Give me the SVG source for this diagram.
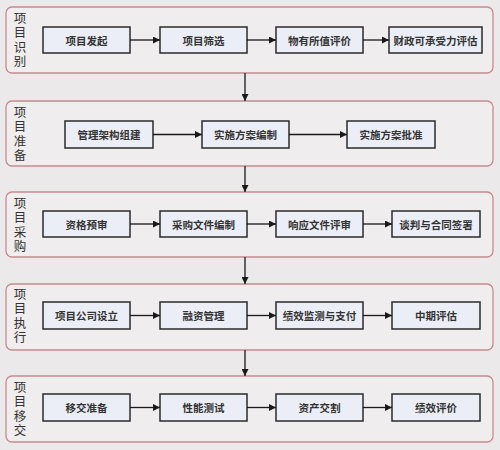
<svg xmlns="http://www.w3.org/2000/svg" width="500" height="450" viewBox="0 0 500 450">
<style>
.panel{fill:#efeded;stroke:#c98a8e;stroke-width:1.3}
.box{fill:#eceef7;stroke:#2b2b2b;stroke-width:1.5}
.bt{font-family:"Noto Sans CJK SC","Noto Sans",sans-serif;font-size:10.5px;font-weight:bold;fill:#333;text-anchor:middle;dominant-baseline:central}
.pl{font-family:"Noto Sans CJK SC","Noto Sans",sans-serif;font-size:12.5px;fill:#333;writing-mode:vertical-rl;text-anchor:start;letter-spacing:2px}
.c{stroke:#1a1a1a;stroke-width:1.3;fill:none;marker-end:url(#ah)}
</style>
<defs>
<marker id="ah" viewBox="0 0 10 10" refX="10" refY="5" markerWidth="9" markerHeight="7" markerUnits="userSpaceOnUse" orient="auto">
<path d="M0,0 L10,5 L0,10 Z" fill="#1a1a1a"/>
</marker>
</defs>
<rect width="500" height="450" fill="#ebe9e9"/>

<g id="panel1">
<rect class="panel" x="6" y="7" width="487" height="66" rx="6"/>
<text class="pl" x="20" y="11.5">项目识别</text>
</g>
<g id="panel2">
<rect class="panel" x="6" y="101" width="487" height="65" rx="6"/>
<text class="pl" x="20" y="105.5">项目准备</text>
</g>
<g id="panel3">
<rect class="panel" x="6" y="192" width="487" height="65" rx="6"/>
<text class="pl" x="20" y="196.5">项目采购</text>
</g>
<g id="panel4">
<rect class="panel" x="6" y="284" width="487" height="66" rx="6"/>
<text class="pl" x="20" y="287.5">项目执行</text>
</g>
<g id="panel5">
<rect class="panel" x="6" y="376" width="487" height="66" rx="6"/>
<text class="pl" x="20" y="380.5">项目移交</text>
</g>

<g id="n1"><rect class="box" x="43" y="27" width="87" height="26"/><text class="bt" x="86.5" y="40">项目发起</text></g>
<g id="n2"><rect class="box" x="160" y="27" width="87" height="26"/><text class="bt" x="203.5" y="40">项目筛选</text></g>
<g id="n3"><rect class="box" x="276" y="27" width="87" height="26"/><text class="bt" x="319.5" y="40">物有所值评价</text></g>
<g id="n4"><rect class="box" x="389" y="27" width="93" height="26"/><text class="bt" x="435.5" y="40" textLength="84" lengthAdjust="spacingAndGlyphs">财政可承受力评估</text></g>

<g id="n5"><rect class="box" x="65" y="121" width="88" height="27"/><text class="bt" x="109" y="134.5">管理架构组建</text></g>
<g id="n6"><rect class="box" x="202" y="121" width="87" height="27"/><text class="bt" x="245.5" y="134.5">实施方案编制</text></g>
<g id="n7"><rect class="box" x="347" y="121" width="88" height="27"/><text class="bt" x="391" y="134.5">实施方案批准</text></g>

<g id="n8"><rect class="box" x="43" y="211" width="87" height="26"/><text class="bt" x="86.5" y="224">资格预审</text></g>
<g id="n9"><rect class="box" x="160" y="211" width="87" height="26"/><text class="bt" x="203.5" y="224">采购文件编制</text></g>
<g id="n10"><rect class="box" x="276" y="211" width="87" height="26"/><text class="bt" x="319.5" y="224">响应文件评审</text></g>
<g id="n11"><rect class="box" x="392" y="211" width="88" height="26"/><text class="bt" x="436" y="224">谈判与合同签署</text></g>

<g id="n12"><rect class="box" x="43" y="302" width="87" height="27"/><text class="bt" x="86.5" y="315.5">项目公司设立</text></g>
<g id="n13"><rect class="box" x="160" y="302" width="87" height="27"/><text class="bt" x="203.5" y="315.5">融资管理</text></g>
<g id="n14"><rect class="box" x="276" y="302" width="87" height="27"/><text class="bt" x="319.5" y="315.5">绩效监测与支付</text></g>
<g id="n15"><rect class="box" x="392" y="302" width="88" height="27"/><text class="bt" x="436" y="315.5">中期评估</text></g>

<g id="n16"><rect class="box" x="43" y="394" width="87" height="27"/><text class="bt" x="86.5" y="407.5">移交准备</text></g>
<g id="n17"><rect class="box" x="160" y="394" width="87" height="27"/><text class="bt" x="203.5" y="407.5">性能测试</text></g>
<g id="n18"><rect class="box" x="276" y="394" width="87" height="27"/><text class="bt" x="319.5" y="407.5">资产交割</text></g>
<g id="n19"><rect class="box" x="392" y="394" width="88" height="27"/><text class="bt" x="436" y="407.5">绩效评价</text></g>

<g id="connectors">
<line class="c" x1="130" y1="40" x2="160" y2="40"/>
<line class="c" x1="247" y1="40" x2="276" y2="40"/>
<line class="c" x1="363" y1="40" x2="389" y2="40"/>
<line class="c" x1="153" y1="134.5" x2="202" y2="134.5"/>
<line class="c" x1="289" y1="134.5" x2="347" y2="134.5"/>
<line class="c" x1="130" y1="224" x2="160" y2="224"/>
<line class="c" x1="247" y1="224" x2="276" y2="224"/>
<line class="c" x1="363" y1="224" x2="392" y2="224"/>
<line class="c" x1="130" y1="315.5" x2="160" y2="315.5"/>
<line class="c" x1="247" y1="315.5" x2="276" y2="315.5"/>
<line class="c" x1="363" y1="315.5" x2="392" y2="315.5"/>
<line class="c" x1="130" y1="407.5" x2="160" y2="407.5"/>
<line class="c" x1="247" y1="407.5" x2="276" y2="407.5"/>
<line class="c" x1="363" y1="407.5" x2="392" y2="407.5"/>
<line class="c" x1="245" y1="73" x2="245" y2="101"/>
<line class="c" x1="245" y1="166" x2="245" y2="192"/>
<line class="c" x1="245" y1="257" x2="245" y2="284"/>
<line class="c" x1="245" y1="350" x2="245" y2="376"/>
</g>
</svg>
